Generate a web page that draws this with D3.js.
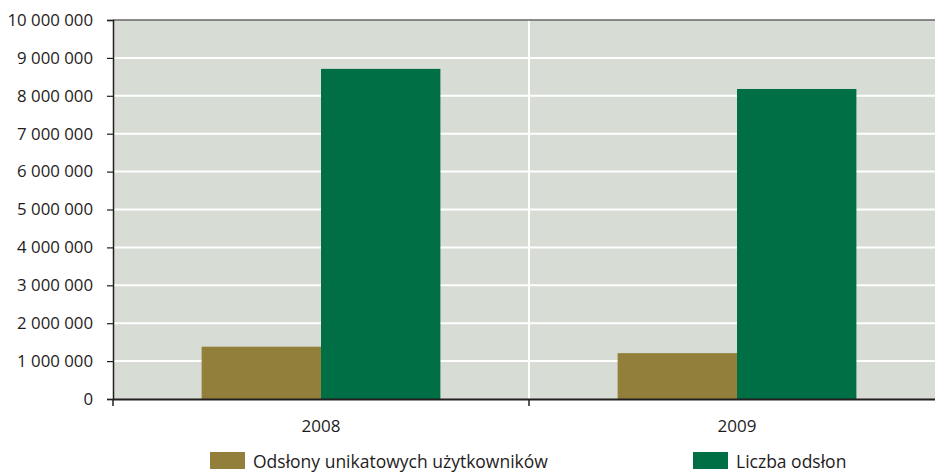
<!DOCTYPE html>
<html>
<head>
<meta charset="utf-8">
<script src="https://cdn.jsdelivr.net/npm/d3@7"></script>
<style>
  html, body { margin: 0; padding: 0; background: #fff; }
  svg { display: block; }
  text { font-family: "Open Sans", sans-serif; fill: #1f1c1d; }
</style>
</head>
<body>
<div id="chart"></div>
<script>
const categories = ["2008", "2009"];
const seriesNames = ["Odsłony unikatowych użytkowników", "Liczba odsłon"];
const uniqueViews = [1380000, 1210000];
const totalViews = [8710000, 8180000];
const yTicks = [0, 1000000, 2000000, 3000000, 4000000, 5000000, 6000000, 7000000, 8000000, 9000000, 10000000];
const colors = ["#937f3c", "#006f46"];

const W = 935, H = 472;
const margin = { left: 113, top: 20, right: -10, bottom: 73 };
const innerRight = W - margin.right; // plot extends past the image edge (cropped)
const svg = d3.select("#chart").append("svg").attr("width", W).attr("height", H);

const x = d3.scaleBand().domain(categories).range([margin.left, innerRight]).paddingInner(0).paddingOuter(0);
const y = d3.scaleLinear().domain([0, 10000000]).range([H - margin.bottom, margin.top]);

const fmt = v => d3.format(",")(v).replace(/,/g, " ");

// background
svg.append("rect").attr("x", margin.left).attr("y", margin.top)
  .attr("width", innerRight - margin.left).attr("height", y(0) - margin.top)
  .attr("fill", "#d7dcd5");

// horizontal grid
svg.append("g").selectAll("line").data(yTicks.slice(1, -1)).join("line")
  .attr("x1", margin.left).attr("x2", innerRight)
  .attr("y1", d => y(d)).attr("y2", d => y(d))
  .attr("stroke", "#fff").attr("stroke-width", 2);

// vertical separators between categories
svg.append("g").selectAll("line").data(categories.slice(1)).join("line")
  .attr("x1", d => x(d)).attr("x2", d => x(d))
  .attr("y1", margin.top).attr("y2", y(0))
  .attr("stroke", "#fff").attr("stroke-width", 2);

// bars
const barW = x.bandwidth() * 0.287;
const series = [uniqueViews, totalViews];
series.forEach((vals, si) => {
  svg.append("g").selectAll("rect").data(categories).join("rect")
    .attr("x", (d) => x(d) + x.bandwidth() / 2 + (si === 0 ? -barW : 0))
    .attr("width", barW)
    .attr("y", (d, i) => y(vals[i]))
    .attr("height", (d, i) => y(0) - y(vals[i]))
    .attr("fill", colors[si]);
});

// top border
svg.append("line").attr("x1", margin.left).attr("x2", innerRight)
  .attr("y1", margin.top).attr("y2", margin.top)
  .attr("stroke", "#666").attr("stroke-width", 1.5);

// y axis
const yAxis = svg.append("g").attr("transform", `translate(${margin.left},0)`)
  .call(d3.axisLeft(y).tickValues(yTicks).tickFormat(fmt).tickSize(6).tickPadding(14));
yAxis.select(".domain").attr("stroke", "#231f20").attr("stroke-width", 1.5);
yAxis.selectAll(".tick line").attr("stroke", "#231f20").attr("stroke-width", 1.2);
yAxis.selectAll("text").attr("font-size", 16.8).attr("font-family", "Open Sans, sans-serif").attr("fill", "#1f1c1d");

// x axis
const xAxis = svg.append("g").attr("transform", `translate(0,${y(0)})`)
  .call(d3.axisBottom(x).tickSize(0).tickPadding(21));
xAxis.select(".domain").attr("stroke", "#231f20").attr("stroke-width", 2);
xAxis.selectAll("text").attr("font-size", 17).attr("font-family", "Open Sans, sans-serif").attr("fill", "#1f1c1d");

// x boundary ticks
const bounds = [margin.left].concat(categories.slice(1).map(d => x(d)));
svg.append("g").selectAll("line").data(bounds).join("line")
  .attr("x1", d => d).attr("x2", d => d)
  .attr("y1", y(0)).attr("y2", y(0) + 7)
  .attr("stroke", "#231f20").attr("stroke-width", 1.5);

// legend
const legendX = [210, 693];
const lg = svg.append("g");
seriesNames.forEach((name, i) => {
  lg.append("rect").attr("x", legendX[i]).attr("y", 452).attr("width", 35).attr("height", 17).attr("fill", colors[i]);
  lg.append("text").attr("x", legendX[i] + 43).attr("y", 468)
    .attr("font-size", 17.5).text(name);
});
</script>
</body>
</html>
